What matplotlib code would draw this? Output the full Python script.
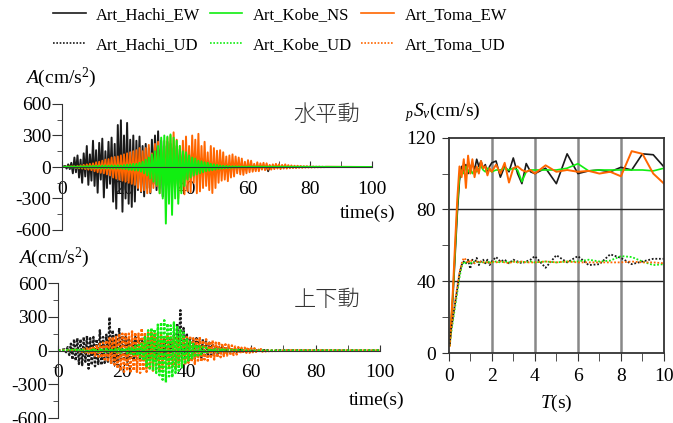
import numpy as np
import matplotlib
matplotlib.use('Agg')
import matplotlib.pyplot as plt
from matplotlib.lines import Line2D
from matplotlib.ticker import MultipleLocator

plt.rcParams['font.family'] = ['Liberation Serif', 'DejaVu Serif']
plt.rcParams['mathtext.fontset'] = 'custom'
plt.rcParams['mathtext.rm'] = 'Liberation Serif'
plt.rcParams['mathtext.it'] = 'Liberation Serif:italic'
plt.rcParams['path.simplify'] = False

# ---- acceleration records (peaks read every 0.5 s) ----
dt = 0.5
record_end = 100.0

hachi_ew_t0 = 1.0
hachi_ew = [10, -15, 25, -20, 40,
            -60, 90, -50, 110, -100, 70,
            -150, 130, -90, 200, -170, 120, -130, 250,
            -180, 160, -245, 230, -120, 270, -290, 150, -200, 240,
            -160, 280, -330, 220, -397, 400, -250, 445, -426, 300,
            -300, 420, -350, 260, -380, 300, -329, 250, -220, 290,
            -240, 200, -280, 220, -200, 180, -250, 260, -160, 300,
            -220, 340, -200, 250, -280, 200, -180, 240, -150, 220,
            -200, 180, -160, 200, -150, 170, -140, 150, -120, 140,
            -110, 120, -100, 130, -90, 100, -80, 90, -70, 80,
            -60, 70, -60, 50, -50, 60, -40, 50, -40, 40,
            -30, 40, -35, 30, -25, 30, -25, 20, -30, 25, -20, 20, -15, 25, -20, 15, -15, 20, -15, 12,
            -10, 12, -10, 8, -12, 10, -8, 6, -10, 8, -6, 8, -40, 6, -5, 5, -6, 4, -5, 4,
            -3, 4, -3, 3, -2, 3, -2, 2, -2, 1]

toma_ew_t0 = 4.0
toma_ew = [5, -8, 10, -12, 15, -15, 20, -20, 25, -25, 30, -30, 35,
           -40, 45, -50, 50, -55, 60, -60, 70, -70, 75,
           -80, 90, -100, 95, -110, 100, -120, 110, -130, 120,
           -140, 130, -150, 140, -160, 150, -170, 160, -200, 180,
           -230, 150, -220, 180, -250, 210, -240, 130, -200, 220,
           -180, 240, -250, 200, -160, 250, -240, 280, -200, 300,
           -250, 330, -180, 260, -300, 200, -230, 250, -260, 290,
           -230, 200, -240, 300, -150, 260, -250, 316, -232, 200,
           -200, 240, -180, 139, -220, 200, -248, 180, -200, 155,
           -150, 160, -130, 140, -120, 100, -135, 110, -100, 120,
           -90, 100, -60, 90, -70, 80, -75, 50, -60, 65,
           -50, 60, -45, 30, -40, 45, -40, 35, -25, 40,
           -30, 35, -25, 20, -25, 25, -20, 30, -15, 25,
           -20, 20, -15, 25, -15, 18, -12, 15, -10, 12,
           -10, 12, -8, 10, -8, 8, -6, 8, -5, 6,
           -5, 5, -4, 4, -3, 4, -3, 3, -2, 2]

kobe_ns_t0 = 2.0
kobe_ns = [3, -4, 5, -5, 6, -6, 5, -7, 8, -6, 7, -8, 9, -8, 10, -9, 10,
           -10, 12, -11, 10, -12, 13, -12, 14, -13, 12, -14, 15, -14, 13, -15, 16, -15, 14, -16, 18,
           -20, 22, -25, 24, -28, 30, -32, 30, -35, 40,
           -45, 50, -60, 70, -80, 90, -110, 120, -140, 150,
           -170, 200, -250, 280, -300, 300, -539, 290, -350, 310,
           -456, 280, -300, 250, -350, 200, -250, 150, -180, 140,
           -120, 110, -100, 90, -80, 80, -70, 60, -60, 55,
           -50, 45, -40, 40, -35, 30, -30, 25, -25, 20,
           -18, 15, -15, 12, -12, 10, -10, 8, -8, 7, -6, 6, -5, 5, -4, 4, -3, 3, -3, 2]

hachi_ud_t0 = 2.0
hachi_ud = [10, -15, 30, -40, 60, -80, 100,
            -90, 110, -120, 100, -130, 120, -100, 130, -161, 110,
            -130, 120, -140, 100, -120, 180, -130, 120, -110, 140,
            -100, 296, -120, 180, -100, 150, -90, 200, -80, 130,
            -90, 120, -100, 110, -80, 100, -90, 120, -70, 100,
            -80, 110, -70, 120, -90, 100, -80, 130, -70, 110,
            -90, 120, -80, 100, -90, 110, -70, 130, -80, 120,
            -70, 140, -80, 241, -90, 358, -100, 200, -80, 150,
            -90, 120, -80, 100, -70, 110, -60, 90, -70, 100,
            -60, 80, -50, 70, -60, 60, -40, 50, -45, 40,
            -30, 35, -25, 30, -20, 25, -20, 20, -15, 15,
            -12, 12, -10, 10, -10, 8, -8, 8, -6, 6,
            -5, 5, -5, 4, -4, 4, -3, 3, -3, 3, -3, 2, -2, 2, -2, 2, -2, 2, -1, 1]

toma_ud_t0 = 6.0
toma_ud = [5, -8, 10, -12, 15, -18, 20, -25, 30,
           -35, 40, -45, 50, -55, 60, -65, 70, -80, 90,
           -100, 110, -120, 120, -140, 130, -160, 150, -180, 150,
           -190, 160, -180, 150, -200, 170, -180, 160, -190, 150,
           -200, 197, -180, 160, -190, 170, -170, 160, -180, 150,
           -160, 140, -170, 150, -160, 130, -150, 140, -160, 130,
           -140, 130, -150, 120, -130, 140, -120, 110, -130, 120,
           -110, 130, -100, 110, -120, 100, -90, 120, -100, 90,
           -80, 100, -90, 80, -70, 90, -80, 70, -60, 80,
           -60, 60, -50, 55, -45, 50, -40, 45, -40, 35,
           -35, 30, -30, 25, -25, 25, -20, 30, -20, 20,
           -15, 20, -12, 15, -10, 12, -10, 10, -8, 8,
           -6, 6, -5, 5, -4, 4, -3, 3, -2, 2]

kobe_ud_t0 = 1.0
kobe_ud = [3, -3, 4, -4, 5, -5, 5, -6, 6, -6, 7, -7, 7, -8, 8, -8, 9, -9, 10,
           -10, 10, -11, 11, -12, 12, -12, 13, -13, 14, -14, 15, -15, 16, -16, 17, -17, 18, -18, 20,
           -20, 22, -24, 26, -28, 30, -35, 40, -45, 50, -60, 70, -90,
           120, -150, 180, -160, 200, -180,
           190, -200, 230, -220, 250, -260, 269, -284, 240, -230,
           224, -239, 250, -200, 220, -180, 190, -150, 160, -120,
           100, -90, 80, -70, 60, -60, 50, -45, 40, -35,
           30, -28, 25, -22, 20, -18, 16, -15, 14, -12,
           10, -10, 9, -8, 8, -7, 6, -6, 5, -5, 4, -4, 4, -3, 3, -3, 3, -2, 2, -2]

# ---- pseudo velocity response spectra ----
periods = [0.05, 0.1, 0.2, 0.3, 0.4, 0.5, 0.6, 0.7, 0.8, 0.9, 1.0, 1.1, 1.2, 1.3, 1.4,
           1.5, 1.6, 1.7, 1.8, 1.9, 2.0, 2.2, 2.4, 2.6, 2.8, 3.0, 3.2, 3.4, 3.6, 3.8,
           4.0, 4.5, 5.0, 5.5, 6.0, 6.5, 7.0, 7.5, 8.0, 8.5, 9.0, 9.5, 10.0]
sv_hachi_ew = [5, 14, 32, 55, 78, 96, 104, 101, 105, 100, 103, 106, 102, 108, 104,
               107, 103, 105, 100, 104, 106, 107, 98, 104, 101, 108.7, 100, 94.4, 105.6, 101,
               100, 103, 94.4, 111, 100, 101.5, 102, 101, 103.5, 102, 111, 110.5, 103.7]
sv_kobe_ns = [5, 15, 34, 58, 82, 98, 102, 100, 104, 101, 103, 100, 102, 101, 103,
              104, 102, 101, 103, 102, 101, 102, 102, 103, 102, 103, 102, 95.5, 101, 102,
              102, 102, 102, 103, 105.5, 101.5, 102, 102, 102, 102, 102, 101.5, 103]
sv_toma_ew = [4, 15, 36, 62, 86, 104, 98, 108, 92, 110, 100, 108, 98, 104, 100,
              107, 103, 104, 99, 103, 101, 105, 100, 106, 95, 103, 104, 102, 101, 102,
              100, 104.6, 101, 102, 101, 101.5, 100, 101, 98.5, 112.5, 111, 100, 94.4]
sv_hachi_ud = [5, 12, 20, 28, 36, 44, 49, 51, 50, 52, 47, 52, 50, 53, 49,
               51, 52, 50, 52, 49, 51, 53.5, 51, 52, 50, 52, 51, 50, 51, 52,
               54, 47.5, 54.5, 50.5, 54, 49, 49.5, 55, 53, 49.5, 51, 52.5, 52.5]
sv_kobe_ud = [4, 10, 18, 26, 34, 42, 48, 51, 50, 51, 50, 51, 50.5, 51, 50,
              51, 50.5, 51, 50, 51, 50.5, 51, 50.5, 51, 50.5, 51, 50.5, 51, 50.5, 51,
              50.5, 51, 50.5, 51, 51, 52, 51, 51.5, 54, 53.5, 51, 49, 49.5]
sv_toma_ud = [4, 12, 21, 29, 37, 45, 50, 53, 52, 50, 52, 51, 50, 51, 50.5,
              51, 50.5, 51, 50.5, 50, 51, 50.5, 51, 50.5, 50, 51, 50.5, 51, 50.5, 50.5,
              50.5, 51, 50.5, 51, 50.5, 50.5, 50.5, 50.5, 50.5, 51, 50.5, 50.5, 50]

c_black = '#1a1a1a'
c_green = '#11ee11'
c_orange = '#ff6600'
dots = (0, (1, 1))


def record(t0, vals):
    t = np.concatenate([[0.0], t0 + dt * np.arange(len(vals)), [record_end]])
    a = np.concatenate([[0.0], vals, [0.0]])
    return t, a


def style_time_axes(ax):
    ax.set_xlim(0, 100)
    ax.set_ylim(-600, 600)
    ax.spines['top'].set_visible(False)
    ax.spines['right'].set_visible(False)
    ax.spines['bottom'].set_position(('data', 0))
    ax.spines['bottom'].set_color('#333333')
    ax.spines['left'].set_color('#333333')
    ax.xaxis.set_major_locator(MultipleLocator(20))
    ax.xaxis.set_minor_locator(MultipleLocator(10))
    ax.yaxis.set_major_locator(MultipleLocator(300))
    ax.yaxis.set_minor_locator(MultipleLocator(150))
    ax.tick_params(axis='x', which='both', direction='in', length=4, pad=10,
                   labelsize=14, color='#333333')
    ax.tick_params(axis='y', which='major', direction='out', length=7, pad=1,
                   labelsize=14, color='#333333')
    ax.tick_params(axis='y', which='minor', direction='out', length=3.5,
                   color='#333333')
    ax.set_yticks([-600, -300, 0, 300, 600])
    ax.set_yticklabels(['-600', '-300', '0', '300', '600'])


fig = plt.figure(figsize=(6.73, 4.23), dpi=100)

# horizontal motions
ax1 = fig.add_axes([62 / 673, 1 - 230 / 423, 310 / 673, 126 / 423])
for t0, vals, col in [(hachi_ew_t0, hachi_ew, c_black),
                      (toma_ew_t0, toma_ew, c_orange),
                      (kobe_ns_t0, kobe_ns, c_green)]:
    t, a = record(t0, vals)
    ax1.plot(t, a, color=col, lw=1.4)
style_time_axes(ax1)

# vertical motions
ax2 = fig.add_axes([58 / 673, 1 - 418 / 423, 322 / 673, 135 / 423])
for t0, vals, col in [(hachi_ud_t0, hachi_ud, c_black),
                      (toma_ud_t0, toma_ud, c_orange),
                      (kobe_ud_t0, kobe_ud, c_green)]:
    t, a = record(t0, vals)
    ax2.plot(t, a, color=col, lw=1.7, linestyle=(0, (1, 0.8)))
style_time_axes(ax2)

# response spectra
ax3 = fig.add_axes([448.7 / 673, 1 - 353 / 423, 215.3 / 673, 215.3 / 423])
for x in [2, 4, 6, 8]:
    ax3.axvline(x, color='#888888', lw=1.8, zorder=0)
for y in [40, 80]:
    ax3.axhline(y, color='#222222', lw=1.0, zorder=0)
ax3.plot(periods, sv_hachi_ew, color=c_black, lw=1.2)
ax3.plot(periods, sv_kobe_ns, color=c_green, lw=1.2)
ax3.plot(periods, sv_toma_ew, color=c_orange, lw=1.4)
ax3.plot(periods, sv_hachi_ud, color=c_black, lw=1.3, linestyle=dots)
ax3.plot(periods, sv_kobe_ud, color=c_green, lw=1.3, linestyle=dots)
ax3.plot(periods, sv_toma_ud, color=c_orange, lw=1.3, linestyle=dots)
ax3.set_xlim(0, 10)
ax3.set_ylim(0, 120)
ax3.xaxis.set_major_locator(MultipleLocator(2))
ax3.xaxis.set_minor_locator(MultipleLocator(1))
ax3.yaxis.set_major_locator(MultipleLocator(40))
ax3.yaxis.set_minor_locator(MultipleLocator(20))
ax3.tick_params(which='both', direction='out', labelsize=14, color='#333333')
ax3.tick_params(axis='x', which='both', length=6, pad=5)
ax3.tick_params(axis='y', which='both', length=5, pad=4)
for s in ax3.spines.values():
    s.set_linewidth(1.3)
    s.set_color('#333333')

# labels
cjk = ['Noto Sans CJK JP', 'DejaVu Sans']
fig.text(25 / 673, 1 - 78 / 423, r'$A$(cm/s$^{2}$)', fontsize=14, ha='left', va='center')
fig.text(327 / 673, 1 - 115 / 423, '水平動', family=cjk, fontsize=16, weight='light',
         color='#333333', ha='center', va='center')
fig.text(340 / 673, 1 - 213 / 423, 'time(s)', fontsize=14, ha='left', va='center')
fig.text(18 / 673, 1 - 258 / 423, r'$A$(cm/s$^{2}$)', fontsize=14, ha='left', va='center')
fig.text(327 / 673, 1 - 300 / 423, '上下動', family=cjk, fontsize=16, weight='light',
         color='#333333', ha='center', va='center')
fig.text(349 / 673, 1 - 400 / 423, 'time(s)', fontsize=14, ha='left', va='center')
fig.text(405 / 673, 1 - 112 / 423, r'${}_{p}S_{v}$(cm/s)', fontsize=14, ha='left', va='center')
fig.text(556 / 673, 1 - 403 / 423, r'$T$(s)', fontsize=14, ha='center', va='center')

# legend (column-major order for ncol=3)
handles = [Line2D([], [], color=c_black, lw=1.2),
           Line2D([], [], color=c_black, lw=1.2, linestyle=dots),
           Line2D([], [], color=c_green, lw=1.2),
           Line2D([], [], color=c_green, lw=1.2, linestyle=dots),
           Line2D([], [], color=c_orange, lw=1.2),
           Line2D([], [], color=c_orange, lw=1.2, linestyle=dots)]
labels = ['Art_Hachi_EW', 'Art_Hachi_UD', 'Art_Kobe_NS', 'Art_Kobe_UD',
          'Art_Toma_EW', 'Art_Toma_UD']
fig.legend(handles, labels, ncol=3, loc='upper left',
           bbox_to_anchor=(53 / 673, 1 - 7 / 423), frameon=False, fontsize=12,
           handlelength=1.95, handletextpad=0.65, columnspacing=0.55,
           labelspacing=0.85, borderpad=0, borderaxespad=0)

fig.savefig('out.png', dpi=100)
